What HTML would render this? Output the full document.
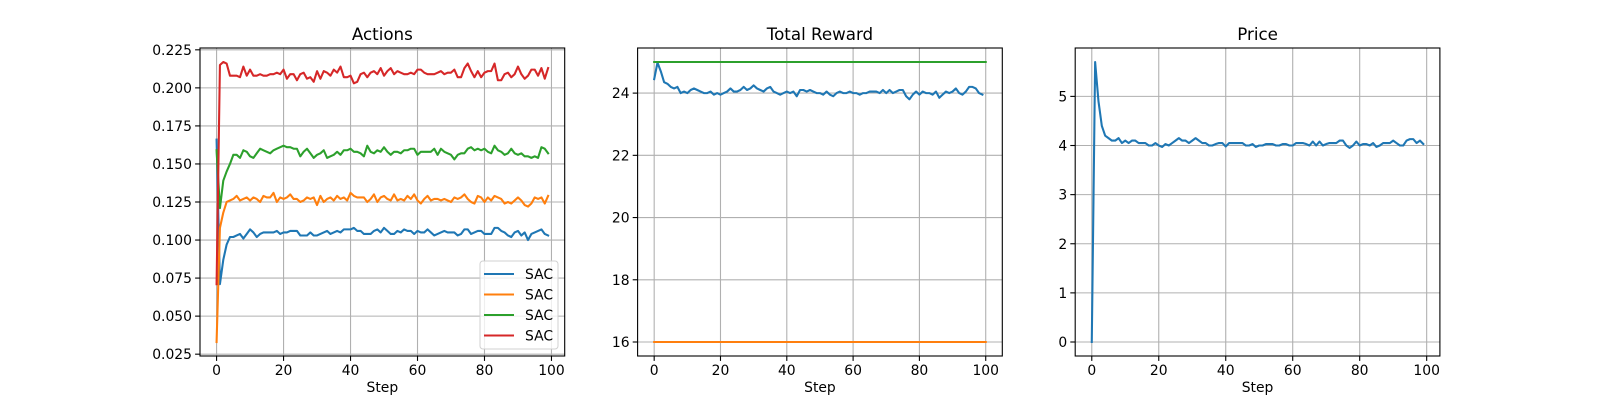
<!DOCTYPE html>
<html><head><meta charset="utf-8"><style>
html,body{margin:0;padding:0;background:#fff;}
svg{display:block;font-family:"DejaVu Sans","Liberation Sans",sans-serif;}
</style></head><body>
<svg id="fig" width="1600" height="400" viewBox="0 0 1600 400" xmlns="http://www.w3.org/2000/svg"></svg>
<script>
const actionsBlue=[0.166,0.071,0.087,0.097,0.102,0.102,0.103,0.104,0.101,0.104,0.107,0.105,0.102,0.104,0.105,0.105,0.105,0.105,0.106,0.104,0.105,0.105,0.106,0.106,0.106,0.103,0.103,0.103,0.105,0.103,0.103,0.104,0.105,0.106,0.104,0.105,0.106,0.105,0.107,0.107,0.107,0.108,0.106,0.106,0.104,0.104,0.104,0.106,0.107,0.105,0.108,0.106,0.104,0.104,0.106,0.105,0.107,0.106,0.106,0.104,0.106,0.105,0.105,0.107,0.105,0.103,0.104,0.105,0.106,0.105,0.105,0.105,0.103,0.104,0.107,0.107,0.104,0.105,0.106,0.106,0.104,0.104,0.104,0.108,0.108,0.106,0.105,0.103,0.102,0.105,0.106,0.103,0.105,0.100,0.104,0.105,0.106,0.107,0.104,0.103];
const actionsOrange=[0.033,0.108,0.118,0.125,0.126,0.127,0.129,0.126,0.127,0.128,0.126,0.128,0.127,0.125,0.129,0.128,0.128,0.131,0.125,0.128,0.127,0.128,0.130,0.127,0.127,0.125,0.126,0.128,0.127,0.128,0.123,0.129,0.125,0.127,0.128,0.126,0.129,0.127,0.128,0.126,0.131,0.129,0.128,0.128,0.128,0.125,0.127,0.130,0.125,0.128,0.129,0.127,0.126,0.130,0.126,0.127,0.126,0.129,0.127,0.130,0.126,0.124,0.127,0.129,0.126,0.127,0.127,0.126,0.127,0.126,0.125,0.128,0.127,0.128,0.130,0.127,0.125,0.124,0.129,0.128,0.125,0.128,0.126,0.129,0.128,0.127,0.124,0.125,0.124,0.126,0.128,0.126,0.123,0.122,0.124,0.128,0.127,0.128,0.124,0.129];
const actionsGreen=[0.159,0.121,0.139,0.145,0.150,0.156,0.156,0.154,0.159,0.158,0.155,0.154,0.157,0.160,0.159,0.158,0.157,0.159,0.160,0.161,0.162,0.161,0.161,0.160,0.160,0.155,0.158,0.160,0.157,0.154,0.156,0.157,0.159,0.154,0.155,0.156,0.158,0.156,0.159,0.159,0.160,0.158,0.158,0.157,0.155,0.162,0.158,0.157,0.159,0.158,0.161,0.158,0.156,0.158,0.158,0.157,0.159,0.159,0.160,0.160,0.156,0.158,0.158,0.158,0.158,0.160,0.156,0.160,0.158,0.157,0.156,0.153,0.156,0.157,0.157,0.160,0.161,0.159,0.160,0.159,0.160,0.158,0.157,0.162,0.159,0.158,0.156,0.157,0.160,0.157,0.156,0.157,0.155,0.155,0.154,0.155,0.154,0.161,0.160,0.157];
const actionsRed=[0.071,0.215,0.217,0.216,0.208,0.208,0.208,0.207,0.214,0.208,0.212,0.208,0.208,0.209,0.208,0.208,0.209,0.209,0.210,0.209,0.212,0.206,0.209,0.209,0.205,0.209,0.210,0.206,0.207,0.204,0.211,0.206,0.211,0.210,0.208,0.212,0.210,0.214,0.207,0.207,0.208,0.203,0.204,0.209,0.210,0.207,0.210,0.211,0.209,0.213,0.208,0.211,0.213,0.209,0.211,0.210,0.209,0.209,0.210,0.209,0.212,0.212,0.210,0.209,0.209,0.209,0.210,0.211,0.209,0.210,0.210,0.212,0.207,0.207,0.213,0.216,0.211,0.207,0.211,0.207,0.210,0.211,0.211,0.216,0.205,0.205,0.209,0.210,0.207,0.209,0.214,0.209,0.206,0.208,0.212,0.212,0.208,0.213,0.206,0.213];
const rewardBlue=[24.45,24.98,24.7,24.35,24.3,24.2,24.15,24.2,24.0,24.05,24.0,24.1,24.15,24.1,24.05,24.0,24.0,24.05,23.95,24.0,23.95,24.0,24.05,24.15,24.05,24.05,24.1,24.2,24.1,24.15,24.25,24.15,24.1,24.05,24.15,24.2,24.05,24.0,23.95,24.0,24.05,24.0,24.05,23.9,24.1,24.1,24.05,24.1,24.05,24.0,24.0,23.95,24.05,23.95,23.9,24.0,24.05,24.0,24.0,24.05,24.0,24.0,23.95,24.0,24.0,24.05,24.05,24.05,24.0,24.1,24.0,24.1,24.0,24.05,24.1,24.1,23.9,23.8,23.95,24.05,23.95,24.05,24.0,24.0,23.95,24.05,23.85,23.95,24.05,24.0,24.05,24.15,24.0,23.95,24.05,24.2,24.2,24.15,24.0,23.95];
const rewardX=[0,100];
const rewardGreen=[25,25];
const rewardOrange=[16,16];
const price=[0,5.7,4.9,4.4,4.2,4.15,4.1,4.1,4.15,4.05,4.1,4.05,4.1,4.1,4.05,4.05,4.05,4.0,4.0,4.05,4.0,3.97,4.03,4.0,4.05,4.1,4.15,4.1,4.1,4.05,4.1,4.15,4.1,4.05,4.05,4.0,4.0,4.03,4.05,4.05,3.98,4.05,4.05,4.05,4.05,4.05,4.0,4.0,4.03,3.97,4.0,4.0,4.03,4.03,4.03,4.0,4.0,4.03,4.03,4.0,4.0,4.05,4.05,4.05,4.03,4.0,4.08,4.0,4.08,4.0,4.03,4.05,4.05,4.05,4.1,4.1,4.0,3.95,4.0,4.08,4.0,4.03,4.03,4.0,4.05,3.97,4.0,4.05,4.05,4.05,4.1,4.05,4.0,4.0,4.1,4.13,4.13,4.05,4.1,4.03];
const xTicks=[0,20,40,60,80,100];
const actionsYTicks=[0.025,0.050,0.075,0.100,0.125,0.150,0.175,0.200,0.225];
const rewardYTicks=[16,18,20,22,24];
const priceYTicks=[0,1,2,3,4,5];

const NS="http://www.w3.org/2000/svg";
const svg=document.getElementById('fig');
function mk(tag,attrs,parent){const e=document.createElementNS(NS,tag);for(const k in attrs)e.setAttribute(k,attrs[k]);(parent||svg).appendChild(e);return e;}
const C=['#1f77b4','#ff7f0e','#2ca02c','#d62728'];
const TOP=48,BOT=356;
function idx(a){return a.map((_,i)=>i);}
function panel(name,left,right,xmin,xmax,ymin,ymax,yticks,ydec,title,series){
  const g=mk('g',{});
  
  
  const sx=v=>left+(v-xmin)/(xmax-xmin)*(right-left);
  const sy=v=>BOT-(v-ymin)/(ymax-ymin)*(BOT-TOP);
  xTicks.forEach(t=>{
    const x=sx(t);
    const gl=mk('line',{x1:x,x2:x,y1:TOP,y2:BOT,stroke:'#b0b0b0','stroke-width':1.1},g);
    
    mk('line',{x1:x,x2:x,y1:BOT,y2:BOT+4.9,stroke:'#000','stroke-width':1.1},g);
    const tx=mk('text',{x:x,y:BOT+19,'font-size':13.9,'text-anchor':'middle',fill:'#000'},g);
    tx.textContent=t;
  });
  yticks.forEach(t=>{
    const y=sy(t);
    const gl=mk('line',{x1:left,x2:right,y1:y,y2:y,stroke:'#b0b0b0','stroke-width':1.1},g);
    
    mk('line',{x1:left-4.9,x2:left,y1:y,y2:y,stroke:'#000','stroke-width':1.1},g);
    const tx=mk('text',{x:left-8,y:y+5,'font-size':13.9,'text-anchor':'end',fill:'#000'},g);
    tx.textContent=t.toFixed(ydec);
  });
  series.forEach(s=>{
    const pts=s.y.map((v,i)=>sx(s.x[i]).toFixed(2)+','+sy(v).toFixed(2)).join(' ');
    const pl=mk('polyline',{points:pts,fill:'none',stroke:s.c,'stroke-width':2.08,'stroke-linejoin':'round','stroke-linecap':'square'},g);
    
  });
  const fr=mk('rect',{x:left,y:TOP,width:right-left,height:BOT-TOP,fill:'none',stroke:'#000','stroke-width':1.1},g);
  
  const tt=mk('text',{x:(left+right)/2,y:TOP-8,'font-size':16.7,'text-anchor':'middle',fill:'#000'},g);
  tt.textContent=title;
  const xl=mk('text',{x:(left+right)/2,y:BOT+36,'font-size':13.9,'text-anchor':'middle',fill:'#000'},g);
  xl.textContent='Step';
  return g;
}
const W=364.7,GAP=72.9;
const L1=200,L2=L1+W+GAP,L3=L2+W+GAP;
panel('actions',L1,L1+W,-4.95,103.95,0.0238,0.2262,actionsYTicks,3,'Actions',[
  {x:idx(actionsBlue),y:actionsBlue,c:C[0],n:'actions-line-1'},
  {x:idx(actionsOrange),y:actionsOrange,c:C[1],n:'actions-line-2'},
  {x:idx(actionsGreen),y:actionsGreen,c:C[2],n:'actions-line-3'},
  {x:idx(actionsRed),y:actionsRed,c:C[3],n:'actions-line-4'}]);
panel('reward',L2,L2+W,-5,105,15.55,25.45,rewardYTicks,0,'Total Reward',[
  {x:idx(rewardBlue),y:rewardBlue,c:C[0],n:'reward-line'},
  {x:rewardX,y:rewardOrange,c:C[1],n:'reward-min-line'},
  {x:rewardX,y:rewardGreen,c:C[2],n:'reward-max-line'}]);
panel('price',L3,L3+W,-4.95,103.95,-0.285,5.985,priceYTicks,0,'Price',[
  {x:idx(price),y:price,c:C[0],n:'price-line'}]);
// legend
const lg=mk('g',{});


mk('rect',{x:480,y:261,width:78,height:88,rx:3,fill:'#fff','fill-opacity':0.8,stroke:'#d0d0d0','stroke-width':1},lg);
[274,294.5,315,335.5].forEach((y,i)=>{
  const e=mk('g',{},lg);
  
  
  mk('line',{x1:484,x2:514,y1:y,y2:y,stroke:C[i],'stroke-width':2.08},e);
  const t=mk('text',{x:525,y:y+5,'font-size':13.9,fill:'#000'},e);t.textContent='SAC';
});
</script>
</body></html>
